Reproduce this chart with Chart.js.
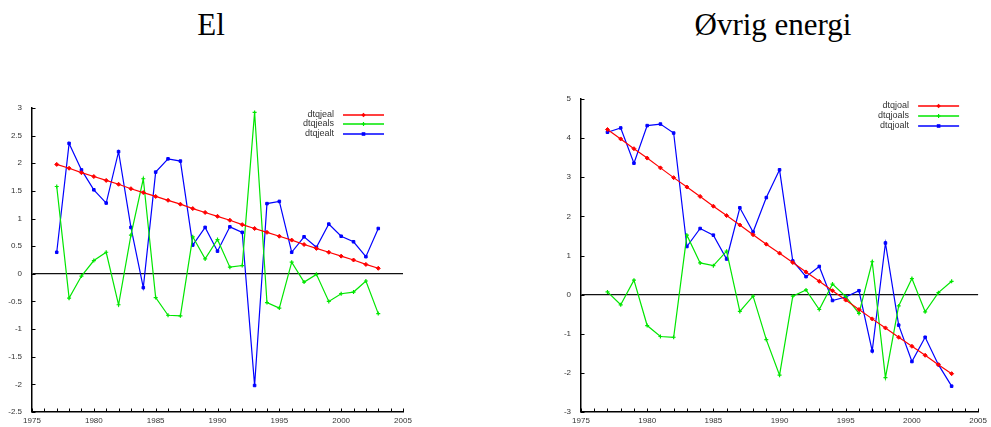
<!DOCTYPE html>
<html lang="no">

<head>
    <meta charset="UTF-8">
    <title>El / Øvrig energi</title>
    <script src="https://cdn.jsdelivr.net/npm/chart.js"></script>
    <style>
        body { margin: 0; background: #fff; }
        .tittel {
            position: absolute;
            top: 10px;
            font-family: "Liberation Serif", "Times New Roman", serif;
            font-size: 31px;
            line-height: 30px;
            color: #000;
            white-space: nowrap;
            transform: translateX(-50%);
        }
        .panel { position: absolute; top: 0; height: 427px; }
    </style>
</head>

<body>
    <div class="tittel" style="left: 211px;">El</div>
    <div class="tittel" style="left: 773px;">Øvrig energi</div>

    <div class="panel" style="left: 0; width: 420px;"><canvas id="grafEl"></canvas></div>
    <div class="panel" style="left: 495px; width: 496px;"><canvas id="grafOvrig"></canvas></div>

<script>
    // år 1977-2003
    var aar = [1977, 1978, 1979, 1980, 1981, 1982, 1983, 1984, 1985, 1986, 1987, 1988, 1989, 1990,
        1991, 1992, 1993, 1994, 1995, 1996, 1997, 1998, 1999, 2000, 2001, 2002, 2003];

    // El
    var dtqjeal = [1.98, 1.91, 1.83, 1.76, 1.69, 1.62, 1.54, 1.47, 1.40, 1.33, 1.26, 1.18, 1.11, 1.04,
        0.97, 0.89, 0.82, 0.75, 0.68, 0.61, 0.53, 0.46, 0.39, 0.32, 0.25, 0.17, 0.10];
    var dtqjeals = [1.58, -0.44, -0.04, 0.24, 0.39, -0.56, 0.70, 1.72, -0.43, -0.75, -0.76, 0.67, 0.27, 0.62,
        0.12, 0.15, 2.92, -0.52, -0.62, 0.21, -0.15, -0.01, -0.50, -0.36, -0.33, -0.13, -0.72];
    var dtqjealt = [0.39, 2.36, 1.88, 1.52, 1.28, 2.21, 0.84, -0.25, 1.84, 2.08, 2.04, 0.52, 0.84, 0.41,
        0.85, 0.75, -2.02, 1.27, 1.31, 0.39, 0.67, 0.48, 0.90, 0.68, 0.58, 0.31, 0.82];

    // Øvrig energi
    var dtqjoal = [4.22, 3.98, 3.73, 3.49, 3.24, 2.99, 2.75, 2.51, 2.26, 2.02, 1.78, 1.53, 1.29, 1.06,
        0.82, 0.58, 0.34, 0.10, -0.14, -0.38, -0.62, -0.85, -1.09, -1.32, -1.55, -1.79, -2.02];
    var dtqjoals = [0.07, -0.26, 0.37, -0.79, -1.07, -1.09, 1.52, 0.81, 0.74, 1.11, -0.43, -0.04, -1.15, -2.06,
        -0.04, 0.12, -0.38, 0.27, -0.05, -0.48, 0.84, -2.12, -0.29, 0.41, -0.44, 0.05, 0.34];
    var dtqjoalt = [4.15, 4.26, 3.36, 4.32, 4.36, 4.13, 1.23, 1.69, 1.52, 0.91, 2.22, 1.60, 2.48, 3.19,
        0.86, 0.46, 0.72, -0.15, -0.06, 0.10, -1.44, 1.32, -0.78, -1.71, -1.09, -1.79, -2.34];

    var xMin = 1975, xMax = 2005;
    var yElMin = -2.5, yElMax = 3, yElSteg = 0.5;
    var yOvMin = -3, yOvMax = 5, yOvSteg = 1;

    var farger = ['rgb(255, 0, 0)', 'rgb(0, 230, 0)', 'rgb(0, 0, 255)'];
    var markorer = ['rectRot', 'cross', 'rect'];
    var fontTekst = '"Liberation Sans", Arial, sans-serif';

    function punkter(verdier) {
        return aar.map(function (a, i) { return { x: a, y: verdier[i] }; });
    }

    function lagDatasett(navn, verdier, i) {
        return {
            label: navn,
            data: punkter(verdier),
            borderColor: farger[i],
            backgroundColor: farger[i],
            borderWidth: 1.2,
            pointStyle: markorer[i],
            pointRadius: i == 2 ? 1.8 : 2,
            pointBorderWidth: i == 1 ? 1.2 : 1,
            tension: 0
        };
    }

    function tegnMarkor(ctx, stil, x, y, farge) {
        ctx.fillStyle = farge;
        ctx.strokeStyle = farge;
        ctx.lineWidth = 1.2;
        ctx.beginPath();
        if (stil == 'rectRot') {
            ctx.moveTo(x, y - 2.2); ctx.lineTo(x + 2.2, y); ctx.lineTo(x, y + 2.2); ctx.lineTo(x - 2.2, y);
            ctx.closePath(); ctx.fill();
        } else if (stil == 'cross') {
            ctx.moveTo(x - 2, y); ctx.lineTo(x + 2, y); ctx.moveTo(x, y - 2); ctx.lineTo(x, y + 2);
            ctx.stroke();
        } else {
            ctx.fillRect(x - 1.8, y - 1.8, 3.6, 3.6);
        }
    }

    // innovervendte aksestreker og nøkkel (gnuplot-stil)
    var aksePlugin = {
        id: 'akser',
        afterDraw: function (chart) {
            var ctx = chart.ctx, omr = chart.chartArea;
            var sx = chart.scales.x, sy = chart.scales.y;
            ctx.save();
            ctx.strokeStyle = '#000';
            ctx.lineWidth = 1;
            ctx.beginPath();
            for (var a = xMin; a <= xMax; a++) {
                var px = Math.round(sx.getPixelForValue(a)) + 0.5;
                ctx.moveTo(px, omr.bottom);
                ctx.lineTo(px, omr.bottom - 3.5);
            }
            sy.ticks.forEach(function (t) {
                var py = Math.round(sy.getPixelForValue(t.value)) + 0.5;
                ctx.moveTo(omr.left, py);
                ctx.lineTo(omr.left + 3.5, py);
            });
            ctx.stroke();

            var n = chart.options.plugins.nokkel;
            ctx.font = '9px ' + fontTekst;
            ctx.textAlign = 'right';
            ctx.textBaseline = 'middle';
            chart.data.datasets.forEach(function (ds, i) {
                var y = Math.round(omr.top + n.topp + i * n.avstand);
                ctx.fillStyle = '#333';
                ctx.fillText(ds.label, omr.right - 69, y);
                ctx.strokeStyle = ds.borderColor;
                ctx.lineWidth = 1.5;
                ctx.beginPath();
                ctx.moveTo(omr.right - 60, y);
                ctx.lineTo(omr.right - 19, y);
                ctx.stroke();
                tegnMarkor(ctx, ds.pointStyle, omr.right - 39.5, y, ds.borderColor);
            });
            ctx.restore();
        }
    };

    function lagGraf(id, datasett, yMin, yMax, ySteg, yBredde, topp, hoyre, avstand) {
        new Chart(document.getElementById(id), {
            type: 'line',
            data: { datasets: datasett },
            options: {
                responsive: true,
                maintainAspectRatio: false,
                animation: false,
                layout: { autoPadding: false, padding: { top: topp, right: hoyre, bottom: 0, left: 0 } },
                plugins: {
                    legend: { display: false },
                    tooltip: { enabled: false },
                    nokkel: { topp: 6.5, avstand: avstand }
                },
                scales: {
                    x: {
                        type: 'linear',
                        min: xMin,
                        max: xMax,
                        afterFit: function (s) { s.height = 427 - 412; },
                        grid: { display: false, drawTicks: false },
                        border: { display: true, color: '#000', width: 1.5 },
                        ticks: {
                            stepSize: 5,
                            padding: 4,
                            maxRotation: 0,
                            color: '#333',
                            font: { family: fontTekst, size: 8 },
                            callback: function (v) { return String(v); }
                        }
                    },
                    y: {
                        min: yMin,
                        max: yMax,
                        afterFit: function (s) { s.width = yBredde; },
                        grid: {
                            drawTicks: false,
                            lineWidth: 1.2,
                            color: function (c) { return c.tick && c.tick.value === 0 ? '#111' : 'rgba(0,0,0,0)'; }
                        },
                        border: { display: true, color: '#000', width: 1.5 },
                        ticks: {
                            stepSize: ySteg,
                            padding: 10,
                            color: '#333',
                            font: { family: fontTekst, size: 8 },
                            callback: function (v) { return String(v); }
                        }
                    }
                }
            },
            plugins: [aksePlugin]
        });
    }

    lagGraf('grafEl', [
        lagDatasett('dtqjeal', dtqjeal, 0),
        lagDatasett('dtqjeals', dtqjeals, 1),
        lagDatasett('dtqjealt', dtqjealt, 2)
    ], yElMin, yElMax, yElSteg, 32, 108, 420 - 403, 9.5);

    lagGraf('grafOvrig', [
        lagDatasett('dtqjoal', dtqjoal, 0),
        lagDatasett('dtqjoals', dtqjoals, 1),
        lagDatasett('dtqjoalt', dtqjoalt, 2)
    ], yOvMin, yOvMax, yOvSteg, 86, 99, 10, 10);
</script>
</body>

</html>
